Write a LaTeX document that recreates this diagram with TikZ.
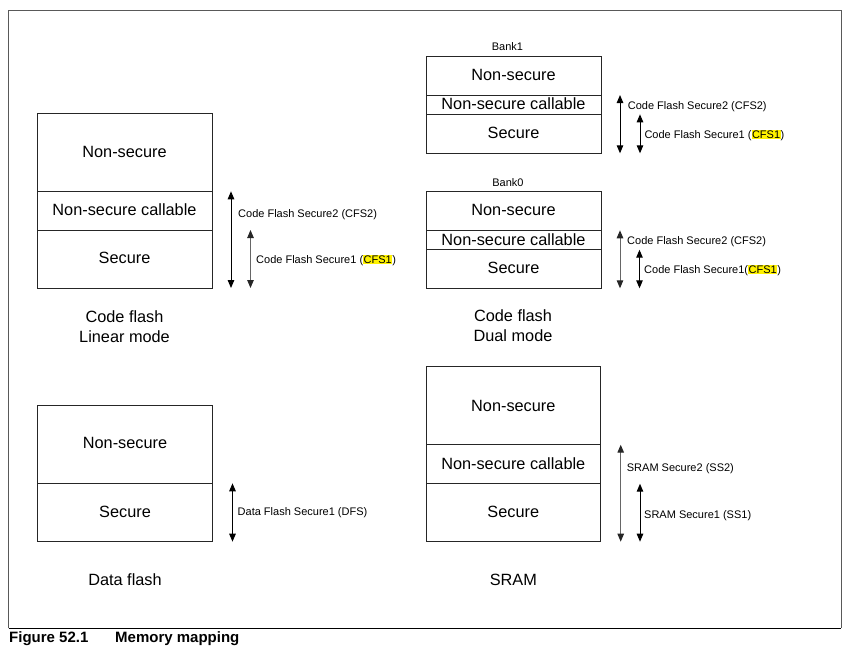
\documentclass[tikz,border=0pt]{standalone}
\usepackage{fontspec}
\setmainfont{Liberation Sans}
\usetikzlibrary{arrows.meta}
\newcommand\hlt[1]{{\setlength\fboxsep{0.5pt}\colorbox{yellow}{#1}}}
\begin{document}
\begin{tikzpicture}[x=1pt,y=-1pt,
  box/.style={draw=black!85, line width=0.9pt},
  big/.style={font=\fontsize{16.3}{18}\selectfont, inner sep=0pt, anchor=center},
  small/.style={font=\fontsize{11}{13}\selectfont, inner sep=0pt, anchor=base west},
  bank/.style={font=\fontsize{11}{13}\selectfont, inner sep=0pt, anchor=center},
  dbl/.style={{Triangle[length=8pt,width=6.5pt]}-{Triangle[length=8pt,width=6.5pt]}, line width=1pt, draw=black},
  dblg/.style={dbl, draw=black!60, {Triangle[length=8pt,width=6.5pt,fill=black!85,color=black!85]}-{Triangle[length=8pt,width=6.5pt,fill=black!85,color=black!85]}},
  figcap/.style={font=\bfseries\fontsize{15}{17}\selectfont, inner sep=0pt, anchor=base west}]
\useasboundingbox (0,0) rectangle (854,649);
% frame
\draw[draw=black!65, line width=0.9pt] (8.5,628) -- (8.5,10) -- (841,10) -- (841,628);
\draw[draw=black, line width=1pt] (8.5,628) -- (841,628);
\node[figcap] (figno) at (9,642) {Figure 52.1};
\node[figcap] (figtitle) at (115,642) {Memory mapping};

% ---------- Code flash linear mode ----------
\draw[box] (37,113) rectangle (212,288);
\draw[box] (37,191.3) -- (212,191.3);
\draw[box] (37,230) -- (212,230);
\node[big] (lns) at (124.5,152) {Non-secure};
\node[big] (lnsc) at (124.5,210) {Non-secure callable};
\node[big] (ls) at (124.5,258) {Secure};
\coordinate (l2a) at (231,191.3); \coordinate (l2b) at (231,288);
\coordinate (l1a) at (250.5,230); \coordinate (l1b) at (250.5,288);
\draw[dbl] (l2a) -- (l2b);
\draw[dblg] (l1a) -- (l1b);
\node[small] (l2t) at (238,217) {Code Flash Secure2 (CFS2)};
\node[small] (l1t) at (256,263) {Code Flash Secure1 (\hlt{CFS1})};
\node[big] (lc1) at (124.5,316.7) {Code flash};
\node[big] (lc2) at (124.5,336.7) {Linear mode};

% ---------- Code flash dual mode: Bank1 ----------
\node[bank] (b1) at (507.5,46.7) {Bank1};
\draw[box] (426,56) rectangle (601,153.3);
\draw[box] (426,95) -- (601,95);
\draw[box] (426,114.3) -- (601,114.3);
\node[big] (b1ns) at (513.5,75) {Non-secure};
\node[big] (b1nsc) at (513.5,104) {Non-secure callable};
\node[big] (b1s) at (513.5,133.3) {Secure};
\coordinate (b12a) at (620,95); \coordinate (b12b) at (620,153.3);
\coordinate (b11a) at (640,114.3); \coordinate (b11b) at (640,153.3);
\draw[dbl] (b12a) -- (b12b);
\draw[dbl] (b11a) -- (b11b);
\node[small] (b12t) at (627.7,109.3) {Code Flash Secure2 (CFS2)};
\node[small] (b11t) at (644.3,138.3) {Code Flash Secure1 (\hlt{CFS1})};

% ---------- Bank0 ----------
\node[bank] (b0) at (508,182.3) {Bank0};
\draw[box] (426,191.7) rectangle (601,288.3);
\draw[box] (426,230.3) -- (601,230.3);
\draw[box] (426,249.7) -- (601,249.7);
\node[big] (b0ns) at (513.5,210.3) {Non-secure};
\node[big] (b0nsc) at (513.5,239.3) {Non-secure callable};
\node[big] (b0s) at (513.5,268) {Secure};
\coordinate (b02a) at (620,230.3); \coordinate (b02b) at (620,288.3);
\coordinate (b01a) at (639.5,249.7); \coordinate (b01b) at (639.5,288.3);
\draw[dblg] (b02a) -- (b02b);
\draw[dbl] (b01a) -- (b01b);
\node[small] (b02t) at (627,244.3) {Code Flash Secure2 (CFS2)};
\node[small] (b01t) at (644,273.3) {Code Flash Secure1(\hlt{CFS1})};
\node[big] (dc1) at (513,316) {Code flash};
\node[big] (dc2) at (513,336) {Dual mode};

% ---------- Data flash ----------
\draw[box] (37.5,405.5) rectangle (212.5,541.7);
\draw[box] (37.5,483.3) -- (212.5,483.3);
\node[big] (dns) at (125,443.3) {Non-secure};
\node[big] (ds) at (125,511.7) {Secure};
\coordinate (dfa) at (232.5,483.3); \coordinate (dfb) at (232.5,541.7);
\draw[dbl] (dfa) -- (dfb);
\node[small] (dft) at (237.5,515.7) {Data Flash Secure1 (DFS)};
\node[big] (dc) at (125,579.3) {Data flash};

% ---------- SRAM ----------
\draw[box] (426,366.7) rectangle (600.5,541.7);
\draw[box] (426,444.7) -- (600.5,444.7);
\draw[box] (426,483.7) -- (600.5,483.7);
\node[big] (sns) at (513.3,405.7) {Non-secure};
\node[big] (snsc) at (513.3,463.7) {Non-secure callable};
\node[big] (ss) at (513.3,512.3) {Secure};
\coordinate (s2a) at (620.7,444.7); \coordinate (s2b) at (620.7,541.7);
\coordinate (s1a) at (640,483.7); \coordinate (s1b) at (640,541.7);
\draw[dblg] (s2a) -- (s2b);
\draw[dbl] (s1a) -- (s1b);
\node[small] (s2t) at (626.7,471.3) {SRAM Secure2 (SS2)};
\node[small] (s1t) at (644,518.3) {SRAM Secure1 (SS1)};
\node[big] (sc) at (513.3,580) {SRAM};
\end{tikzpicture}
\end{document}
